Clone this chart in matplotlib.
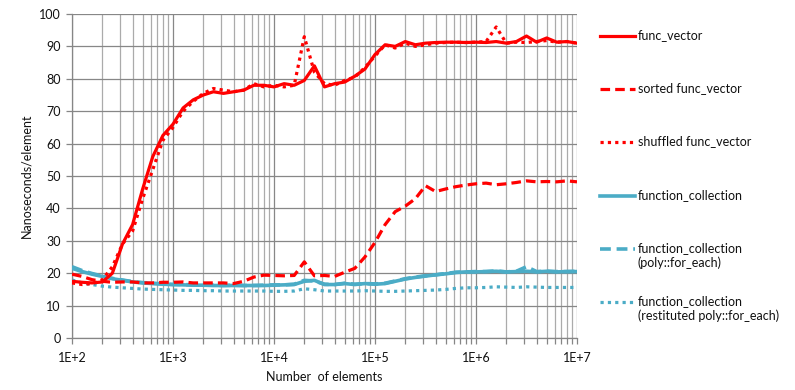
import matplotlib
matplotlib.use("Agg")
import matplotlib.pyplot as plt
from matplotlib.lines import Line2D
from matplotlib.ticker import LogLocator, FixedLocator, NullFormatter

plt.rcParams['font.family'] = ['Lato', 'DejaVu Sans']

n_elements = [100, 126, 158, 200, 251, 316, 398, 501, 631, 794,
              1000, 1259, 1585, 1995, 2512, 3162, 3981, 5012, 6310, 7943,
              10000, 12589, 15849, 19953, 25119, 31623, 39811, 50119, 63096, 79433,
              100000, 125893, 158489, 199526, 251189, 316228, 398107, 501187, 630957, 794328,
              1000000, 1258925, 1584893, 1995262, 2511886, 3162278, 3981072, 5011872, 6309573, 7943282,
              10000000]

func_vector = [17.5, 17.2, 17.0, 17.3, 20.0, 29.0, 35.0, 46.0, 56.0, 62.5,
               66.0, 71.0, 73.5, 75.0, 76.0, 75.5, 76.0, 76.5, 78.0, 78.0,
               77.5, 78.5, 78.0, 79.5, 84.0, 77.5, 78.5, 79.0, 80.8, 83.0,
               87.5, 90.5, 90.0, 91.5, 90.5, 91.0, 91.2, 91.3, 91.3, 91.2,
               91.3, 91.2, 91.5, 91.0, 91.5, 93.2, 91.3, 92.6, 91.3, 91.5,
               91.0]

sorted_func_vector = [19.7, 19.0, 18.0, 17.5, 17.2, 17.3, 17.3, 17.0, 17.0, 17.2,
                      17.2, 17.3, 17.0, 17.0, 17.0, 17.0, 16.8, 17.5, 18.8, 19.4,
                      19.3, 19.2, 19.3, 23.5, 19.2, 19.3, 19.0, 20.3, 21.5, 25.0,
                      29.5, 35.0, 39.0, 40.7, 43.0, 47.0, 45.2, 46.0, 46.7, 47.2,
                      47.6, 47.8, 47.3, 47.6, 48.0, 48.5, 48.2, 48.3, 48.2, 48.5,
                      48.2]

shuffled_func_vector = [17.0, 16.5, 16.8, 18.0, 22.0, 29.0, 33.0, 43.0, 52.0, 61.0,
                        65.0, 70.0, 73.0, 75.5, 77.0, 76.5, 76.0, 76.5, 78.5, 77.5,
                        78.0, 77.5, 78.0, 93.0, 82.0, 78.5, 78.0, 79.5, 80.5, 83.5,
                        87.0, 90.5, 89.5, 91.0, 90.0, 90.5, 91.0, 91.2, 91.3, 91.2,
                        91.3, 91.5, 96.0, 91.0, 91.3, 91.2, 91.5, 91.8, 91.3, 91.5,
                        91.0]

function_collection = [21.5, 20.5, 19.7, 19.0, 18.3, 17.8, 17.3, 17.0, 16.8, 16.6,
                       16.5, 16.4, 16.3, 16.3, 16.2, 16.2, 16.2, 16.2, 16.2, 16.2,
                       16.3, 16.4, 16.5, 17.5, 17.8, 16.5, 16.5, 16.8, 16.5, 16.8,
                       16.6, 16.8, 17.5, 18.2, 18.7, 19.1, 19.5, 19.8, 20.2, 20.4,
                       20.4, 20.5, 20.6, 20.4, 20.5, 20.6, 20.4, 20.6, 20.4, 20.5,
                       20.5]

function_collection_poly = [22.0, 20.8, 19.9, 19.1, 18.4, 17.9, 17.4, 17.1, 16.9, 16.7,
                            16.5, 16.5, 16.4, 16.3, 16.3, 16.2, 16.3, 16.2, 16.2, 16.3,
                            16.4, 16.4, 16.6, 17.8, 17.6, 16.6, 16.5, 16.9, 16.6, 16.8,
                            16.7, 16.9, 17.6, 18.3, 18.8, 19.2, 19.5, 19.9, 20.3, 20.4,
                            20.5, 20.5, 20.7, 20.4, 20.6, 22.0, 20.5, 20.6, 20.5, 20.5,
                            20.6]

function_collection_restituted = [17.9, 17.0, 16.5, 16.0, 15.7, 15.5, 15.3, 15.1, 15.0, 14.9,
                                  14.8, 14.7, 14.7, 14.6, 14.6, 14.5, 14.5, 14.5, 14.5, 14.5,
                                  14.4, 14.4, 14.5, 15.2, 14.9, 14.5, 14.5, 14.5, 14.5, 14.6,
                                  14.5, 14.4, 14.4, 14.5, 14.6, 14.7, 14.8, 15.0, 15.3, 15.5,
                                  15.5, 15.6, 15.8, 15.7, 15.6, 15.8, 15.7, 15.6, 15.6, 15.6,
                                  15.6]

labels = ["func_vector", "sorted func_vector", "shuffled func_vector",
          "function_collection", "function_collection\n(poly::for_each)",
          "function_collection\n(restituted poly::for_each)"]

RED = "#FF0000"
BLUE = "#4BACC6"
TXT = "#111111"
FS = 9

series = [
    (func_vector, RED, '-', 2.3),
    (sorted_func_vector, RED, (0, (3, 1.6)), 2.3),
    (shuffled_func_vector, RED, (0, (1, 1.3)), 2.3),
    (function_collection, BLUE, '-', 2.6),
    (function_collection_poly, BLUE, (0, (3, 1.6)), 2.6),
    (function_collection_restituted, BLUE, (0, (1, 1.3)), 2.3),
]

fig = plt.figure(figsize=(7.95, 3.9), dpi=100)
ax = fig.add_axes([72 / 795, 1 - 338 / 390, (577 - 72) / 795, (338 - 14) / 390])

for (vals, col, ls, lw) in reversed(series):
    ax.plot(n_elements, vals, color=col, linestyle=ls, linewidth=lw, zorder=3)

ax.set_xscale('log')
ax.set_xlim(1e2, 1e7)
ax.set_ylim(0, 100)
ax.yaxis.set_major_locator(FixedLocator(list(range(0, 101, 10))))
ax.xaxis.set_minor_locator(LogLocator(base=10, subs=range(2, 10), numticks=100))
ax.xaxis.set_minor_formatter(NullFormatter())
xticks = [1e2, 1e3, 1e4, 1e5, 1e6, 1e7]
xlabels = ["1E+2", "1E+3", "1E+4", "1E+5", "1E+6", "1E+7"]
ax.set_xticks(xticks)
ax.set_xticklabels(xlabels)

ax.grid(which='major', color='#878787', linewidth=0.9, zorder=1)
ax.grid(which='minor', axis='x', color='#ABABAB', linewidth=0.9, zorder=1)
ax.set_axisbelow(True)

for s in ['top', 'right']:
    ax.spines[s].set_visible(False)
for s in ['left', 'bottom']:
    ax.spines[s].set_color('#868686')
    ax.spines[s].set_linewidth(0.9)

ax.tick_params(axis='both', which='major', length=4, width=0.9, color='#868686',
               labelsize=FS, labelcolor=TXT, pad=4)
ax.tick_params(axis='x', which='minor', length=4, width=0.9, color='#868686')
ax.tick_params(axis='x', which='major', pad=6)

ax.set_xlabel("Number  of elements", fontsize=FS, color=TXT, labelpad=5)
ax.set_ylabel("Nanoseconds/element", fontsize=FS, color=TXT, labelpad=5)

leg_y = [36, 89, 142, 196, 249, 302]
for (vals, col, ls, lw), lab, yy in zip(series, labels, leg_y):
    yf = 1 - yy / 390
    fig.add_artist(Line2D([600 / 795, 635 / 795], [yf, yf], color=col, linestyle=ls,
                          linewidth=lw, transform=fig.transFigure))
    fig.text(638 / 795, yf + 7 / 390, lab, fontsize=FS, color=TXT, va='top',
             ha='left', linespacing=1.2, transform=fig.transFigure)

fig.savefig("out.png", dpi=100)
